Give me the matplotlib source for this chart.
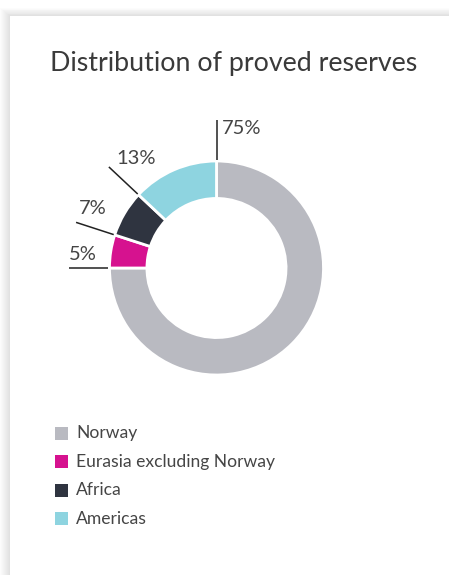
import matplotlib
matplotlib.use("Agg")
import matplotlib.pyplot as plt
from matplotlib.patches import Rectangle
import numpy as np

# ---- data ----
categories = ["Norway", "Eurasia excluding Norway", "Africa", "Americas"]
values = [75, 5, 7, 13]
labels = ["75%", "5%", "7%", "13%"]
colors = ["#b9bac1", "#d6128f", "#2f3440", "#8ed4e0"]
title = "Distribution of proved reserves"

W, H = 449, 575
fig = plt.figure(figsize=(W / 100, H / 100), dpi=100)
fig.patch.set_facecolor("white")

# ---- card with soft shadow (pixel coords, y down) ----
bg = fig.add_axes([0, 0, 1, 1])
bg.set_xlim(0, W)
bg.set_ylim(H, 0)
bg.axis("off")
card_x, card_y = 10, 16
for i in range(10, 0, -1):
    bg.add_patch(Rectangle((card_x - i, card_y - i * 0.8), W, H, facecolor="#000000",
                           alpha=0.012, edgecolor="none"))
bg.add_patch(Rectangle((card_x, card_y), W, H, facecolor="white", edgecolor="none"))

font = "Lato"
txt_color = "#454545"
bg.text(234, 63, title, ha="center", va="center", fontsize=19.3, family=font,
        fontweight="normal", color="#3a3a3a")

# ---- donut ----
cx, cy, R = 216.5, 268, 107  # pixels
span = 1.5
size = 2 * span * R
ax = fig.add_axes([(cx - size / 2) / W, (H - cy - size / 2) / H, size / W, size / H])
ax.pie(values, colors=colors, startangle=90, counterclock=False, radius=1,
       wedgeprops=dict(width=0.35, edgecolor="white", linewidth=2))
ax.set_xlim(-span, span)
ax.set_ylim(-span, span)
ax.set_aspect("equal")
ax.axis("off")

# leader lines at each wedge's starting boundary
total = sum(values)
cum = np.concatenate([[0], np.cumsum(values)[:-1]])
text_offsets = [(0.05, -0.08), (0.13, 0.13), (0.16, 0.13), (0.25, 0.08)]
has = ["left", "center", "center", "center"]
for c, lab, off, ha in zip(cum, labels, text_offsets, has):
    ang = np.deg2rad(90 - 360 * c / total)
    r0, r1 = 1.01, 1.38
    x0, y0 = r0 * np.cos(ang), r0 * np.sin(ang)
    x1, y1 = r1 * np.cos(ang), r1 * np.sin(ang)
    ax.plot([x0, x1], [y0, y1], color="#222222", lw=1.1, solid_capstyle="butt")
    ax.text(x1 + off[0], y1 + off[1], lab, ha=ha, va="center", fontsize=14.5,
            family=font, fontweight="normal", color=txt_color)

# ---- legend ----
leg_y0, leg_dy = 433, 28.5
for i, (cat, col) in enumerate(zip(categories, colors)):
    y = leg_y0 + i * leg_dy
    bg.add_patch(Rectangle((55, y - 6.5), 13, 13, facecolor=col, edgecolor="none"))
    bg.text(76, y, cat, ha="left", va="center", fontsize=12.6, family=font,
            fontweight="normal", color=txt_color)

fig.savefig("out.png", dpi=100, facecolor=fig.get_facecolor())
